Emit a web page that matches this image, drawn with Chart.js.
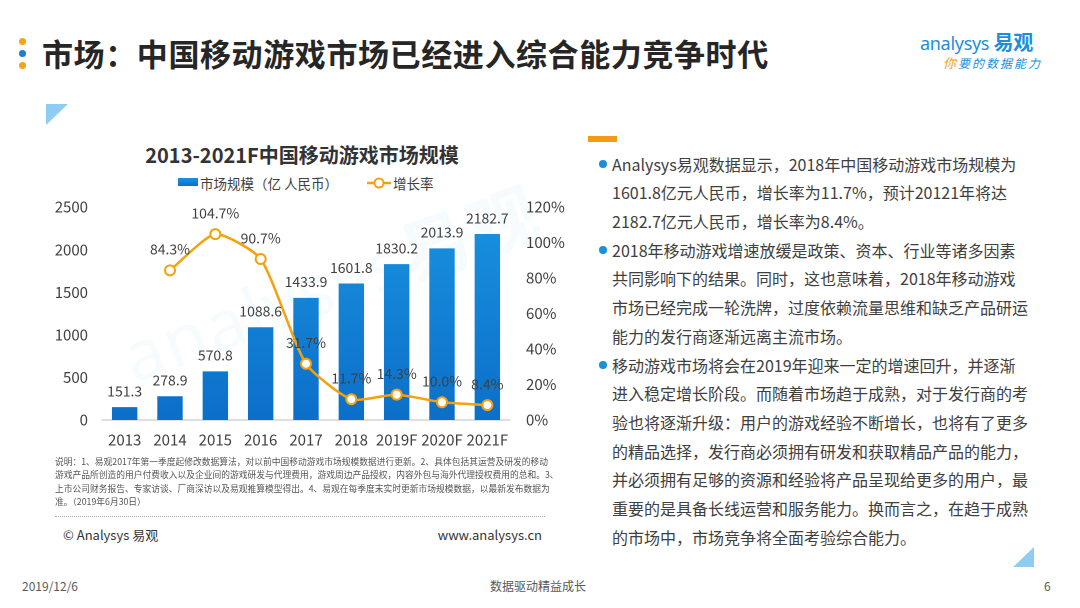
<!DOCTYPE html>
<html>
<head>
<meta charset="utf-8">
<script src="https://cdn.jsdelivr.net/npm/chart.js@4.4.1/dist/chart.umd.min.js"></script>
<style>
  html,body{margin:0;padding:0;background:#fff;}
  body{width:1080px;height:608px;position:relative;overflow:hidden;font-family:"Noto Sans CJK SC","Noto Sans",sans-serif;color:#404040;}
  .abs{position:absolute;white-space:nowrap;}
  .dot{position:absolute;width:7px;height:7px;border-radius:50%;}
  #title{left:42px;top:33px;font-size:31px;font-weight:bold;color:#262626;line-height:40px;letter-spacing:0.6px;}
  #ctitle{left:0;width:604px;text-align:center;top:141px;font-size:20px;font-weight:bold;color:#333;line-height:28px;}
  .leg{font-size:13.5px;color:#404040;line-height:18px;top:174px;}
  #notes{left:55px;top:455px;font-size:8.75px;line-height:13.3px;color:#555;}
  #sep{left:55px;top:516px;width:490px;border-top:1px dotted #aaa;height:0;}
  .foot{font-size:12px;color:#595959;top:577px;line-height:18px;}
  #right{left:612px;top:149.6px;font-size:16px;line-height:28.7px;color:#404040;}
  .bul{position:absolute;left:599px;width:8px;height:8px;border-radius:50%;background:#1a8fdc;}
  #chartbox{position:absolute;left:40px;top:195px;width:530px;height:265px;}
</style>
</head>
<body>
<!-- header -->
<div class="dot" style="left:19px;top:38px;background:#f5a31a"></div>
<div class="dot" style="left:19px;top:50px;background:#1a7fd4"></div>
<div class="dot" style="left:19px;top:62px;background:#f5a31a"></div>
<div id="title" class="abs">市场：中国移动游戏市场已经进入综合能力竞争时代</div>

<div class="abs" style="left:920px;top:30px;font-size:18px;color:#1a8fdc;line-height:24px;font-family:'Noto Sans',sans-serif;letter-spacing:-0.3px;">analysys <span style="font-family:'Noto Sans CJK SC';font-weight:bold;font-size:20px;">易观</span></div>
<div class="abs" style="left:943px;top:55px;font-size:12px;line-height:16px;color:#1a8fdc;font-style:italic;letter-spacing:2px;"><span style="color:#f39a1e;font-size:13px;">你</span>要的数据能力</div>

<svg class="abs" style="left:0;top:0" width="1080" height="608">
  <polygon points="46,104 68,104 46,125" fill="#8fccf2"/>
  <polygon points="1013,567 1034,567 1034,547" fill="#8fccf2"/>
  <rect x="588" y="136" width="29" height="6" fill="#f59a16"/>
</svg>

<!-- chart title & legend -->
<div id="ctitle" class="abs">2013-2021F中国移动游戏市场规模</div>
<div class="abs" style="left:178px;top:178px;width:20px;height:8px;background:linear-gradient(#1a93e0,#0c71ca);"></div>
<div class="abs leg" style="left:200px;">市场规模（亿 人民币）</div>
<svg class="abs" style="left:366px;top:176px" width="26" height="14">
  <line x1="1" y1="7" x2="25" y2="7" stroke="#f5a10f" stroke-width="2.5"/>
  <circle cx="13" cy="7" r="4.5" fill="#fff" stroke="#f5a10f" stroke-width="2"/>
</svg>
<div class="abs leg" style="left:393px;">增长率</div>

<!-- watermark -->
<div class="abs" style="left:110px;top:318px;font-size:70px;line-height:80px;font-family:'Noto Sans',sans-serif;color:rgba(26,143,220,0.04);transform:rotate(-20deg);transform-origin:left top;letter-spacing:2px;">analysys<span style="font-family:'Noto Sans CJK SC';font-weight:bold;">易观</span></div>

<div id="chartbox"><canvas id="c" width="530" height="265"></canvas></div>

<!-- notes -->
<div id="notes" class="abs">说明：1、易观2017年第一季度起修改数据算法，对以前中国移动游戏市场规模数据进行更新。2、具体包括其运营及研发的移动<br>游戏产品所创造的用户付费收入以及企业间的游戏研发与代理费用，游戏周边产品授权，内容外包与海外代理授权费用的总和。3、<br>上市公司财务报告、专家访谈、厂商深访以及易观推算模型得出。4、易观在每季度末实时更新市场规模数据，以最新发布数据为<br>准。（2019年6月30日）</div>
<div id="sep" class="abs"></div>
<div class="abs" style="left:63px;top:526px;font-size:13px;color:#333;line-height:18px;">© Analysys 易观</div>
<div class="abs" style="right:538px;top:526px;font-size:13px;color:#333;line-height:18px;">www.analysys.cn</div>

<!-- footer -->
<div class="abs foot" style="left:22px;">2019/12/6</div>
<div class="abs foot" style="left:490px;">数据驱动精益成长</div>
<div class="abs foot" style="left:1044px;">6</div>

<!-- right text -->
<div class="bul" style="top:160px"></div>
<div class="bul" style="top:246px"></div>
<div class="bul" style="top:361px"></div>
<div id="right" class="abs">Analysys易观数据显示，2018年中国移动游戏市场规模为<br>1601.8亿元人民币，增长率为11.7%，预计20121年将达<br>2182.7亿元人民币，增长率为8.4%。<br>2018年移动游戏增速放缓是政策、资本、行业等诸多因素<br>共同影响下的结果。同时，这也意味着，2018年移动游戏<br>市场已经完成一轮洗牌，过度依赖流量思维和缺乏产品研运<br>能力的发行商逐渐远离主流市场。<br>移动游戏市场将会在2019年迎来一定的增速回升，并逐渐<br>进入稳定增长阶段。而随着市场趋于成熟，对于发行商的考<br>验也将逐渐升级：用户的游戏经验不断增长，也将有了更多<br>的精品选择，发行商必须拥有研发和获取精品产品的能力，<br>并必须拥有足够的资源和经验将产品呈现给更多的用户，最<br>重要的是具备长线运营和服务能力。换而言之，在趋于成熟<br>的市场中，市场竞争将全面考验综合能力。</div>

<script>
const categories = ['2013','2014','2015','2016','2017','2018','2019F','2020F','2021F'];
const marketSize = [151.3, 278.9, 570.8, 1088.6, 1433.9, 1601.8, 1830.2, 2013.9, 2182.7];
const growthRate = [null, 84.3, 104.7, 90.7, 31.7, 11.7, 14.3, 10.0, 8.4];
const leftTicks = [0, 500, 1000, 1500, 2000, 2500];
const rightTicks = [0, 20, 40, 60, 80, 100, 120];

const FONT = '"Noto Sans CJK SC","Noto Sans",sans-serif';
const TXT = '#404040';

const valueLabels = {
  id: 'valueLabels',
  afterDatasetsDraw(chart) {
    const ctx = chart.ctx;
    ctx.save();
    ctx.font = '14px ' + FONT;
    ctx.fillStyle = TXT;
    ctx.textAlign = 'center';
    ctx.textBaseline = 'middle';
    chart.data.datasets.forEach((ds, di) => {
      const meta = chart.getDatasetMeta(di);
      meta.data.forEach((el, i) => {
        const v = ds.data[i];
        if (v === null || v === undefined) return;
        if (ds.type === 'bar') {
          ctx.fillText(v.toFixed(1), el.x, el.y - 16);
        } else {
          ctx.fillText(v.toFixed(1) + '%', el.x, el.y - 21);
        }
      });
    });
    ctx.restore();
  }
};

function fixY(width) {
  return function (s) { s.width = width; s.paddingTop = 0; s.paddingBottom = 0; };
}

new Chart(document.getElementById('c'), {
  data: {
    labels: categories,
    datasets: [
      {
        type: 'line',
        label: '增长率',
        data: growthRate,
        yAxisID: 'y2',
        borderColor: '#f5a10f',
        borderWidth: 2.5,
        pointRadius: 5,
        pointBackgroundColor: '#ffffff',
        pointBorderColor: '#f5a10f',
        pointBorderWidth: 2,
        tension: 0.2,
        order: 0
      },
      {
        type: 'bar',
        label: '市场规模（亿 人民币）',
        data: marketSize,
        yAxisID: 'y',
        backgroundColor: (c) => {
          const ca = c.chart.chartArea;
          if (!ca) return '#1283d6';
          const g = c.chart.ctx.createLinearGradient(0, ca.top, 0, ca.bottom);
          g.addColorStop(0, '#1a93e0');
          g.addColorStop(1, '#0c6fc9');
          return g;
        },
        categoryPercentage: 1,
        barPercentage: 0.56,
        order: 1
      }
    ]
  },
  options: {
    responsive: false,
    animation: false,
    devicePixelRatio: 2,
    layout: { padding: { top: 12, left: 0, right: 0, bottom: 0 } },
    plugins: { legend: { display: false }, tooltip: { enabled: false } },
    scales: {
      x: {
        grid: { display: false, drawTicks: false },
        border: { display: true, color: '#bfbfbf', width: 1 },
        ticks: { color: TXT, font: { family: FONT, size: 15 }, padding: 11, maxRotation: 0, minRotation: 0, autoSkip: false },
        afterFit(s) { s.height = 40; }
      },
      y: {
        position: 'left',
        min: 0, max: 2500,
        afterBuildTicks(s) { s.ticks = leftTicks.map(v => ({ value: v })); },
        grid: { display: false, drawTicks: false },
        border: { display: false },
        ticks: { color: TXT, font: { family: FONT, size: 15 }, padding: 14, callback: v => String(v) },
        afterFit: fixY(62)
      },
      y2: {
        position: 'right',
        min: 0, max: 120,
        afterBuildTicks(s) { s.ticks = rightTicks.map(v => ({ value: v })); },
        grid: { display: false, drawTicks: false },
        border: { display: false },
        ticks: { color: TXT, font: { family: FONT, size: 15 }, padding: 16, callback: v => v + '%' },
        afterFit: fixY(60)
      }
    }
  },
  plugins: [valueLabels]
});
</script>
</body>
</html>
